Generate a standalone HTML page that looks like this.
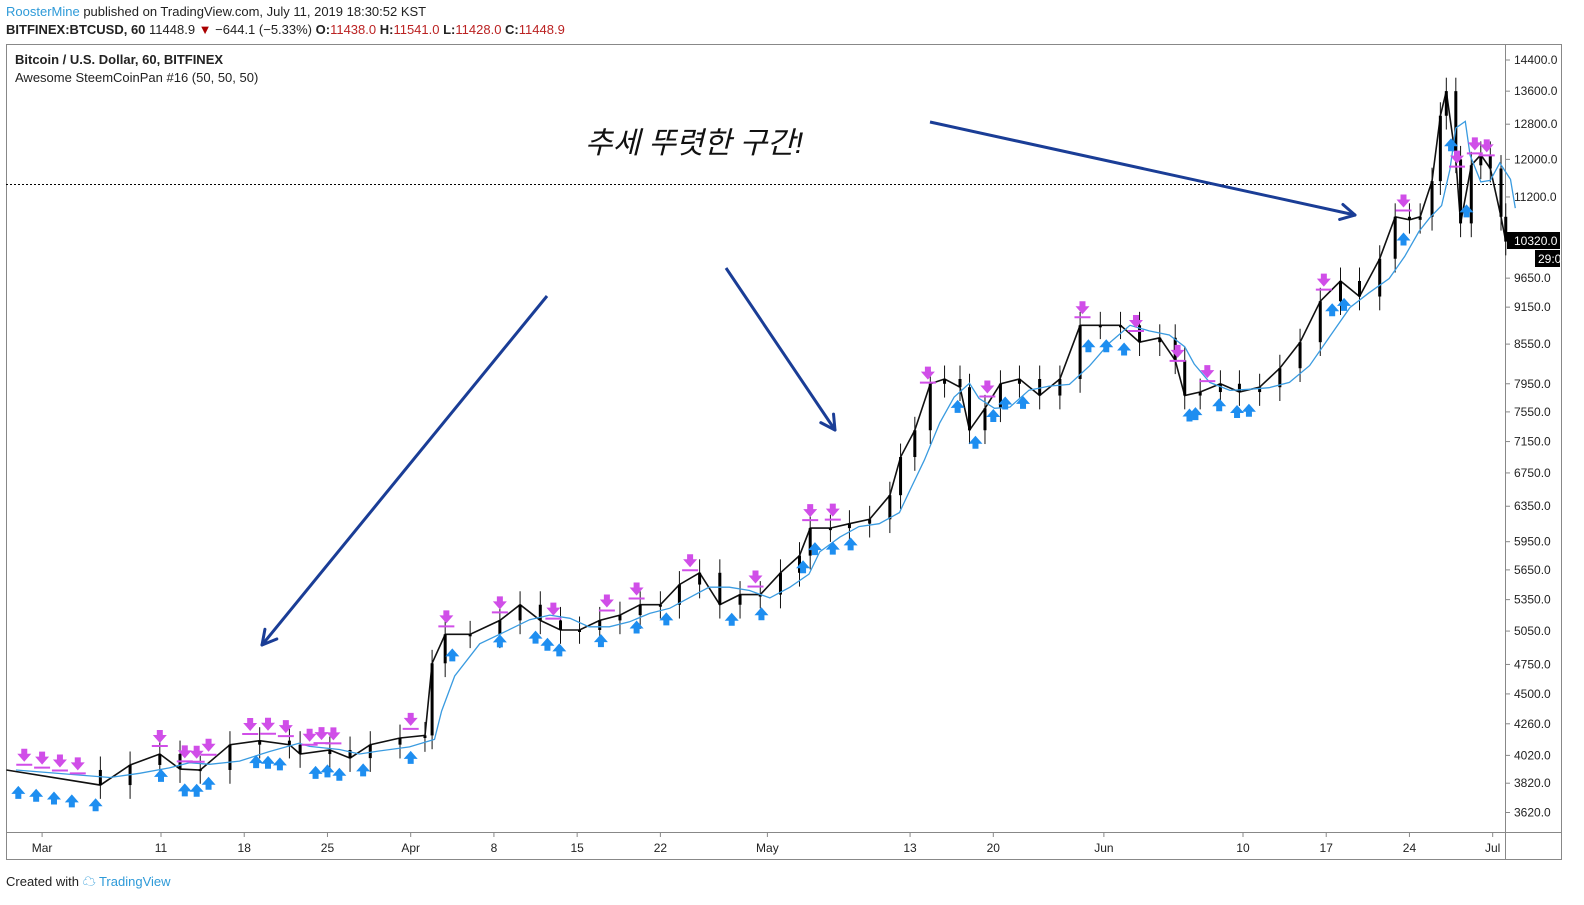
<!DOCTYPE html>
<html><head><meta charset="utf-8">
<style>
body{margin:0;background:#fff;font-family:"Liberation Sans","Noto Sans CJK KR",sans-serif;}
#wrap{position:relative;width:1584px;height:905px;overflow:hidden;}
.t{position:absolute;white-space:nowrap;font-size:13px;color:#222;}
svg{position:absolute;left:0;top:0;}
</style></head><body>
<div id="wrap">
<div class="t" style="left:6px;top:4px;"><span style="color:#2e9ad8">RoosterMine</span> published on TradingView.com, July 11, 2019 18:30:52 KST</div>
<div class="t" style="left:6px;top:22px;"><b>BITFINEX:BTCUSD, 60</b> 11448.9 <span style="color:#a00">▼</span> −644.1 (−5.33%) <b>O:</b><span style="color:#b22">11438.0</span> <b>H:</b><span style="color:#b22">11541.0</span> <b>L:</b><span style="color:#b22">11428.0</span> <b>C:</b><span style="color:#b22">11448.9</span></div>
<div class="t" style="left:15px;top:52px;font-weight:bold;">Bitcoin / U.S. Dollar, 60, BITFINEX</div>
<div class="t" style="left:15px;top:70px;">Awesome SteemCoinPan #16 (50, 50, 50)</div>
<div class="t" style="left:585px;top:118px;font-size:30px;font-style:italic;color:#111;">추세 뚜렷한 구간!</div>
<div class="t" style="left:6px;top:871px;">Created with <span style="color:#2e9ad8">☁ TradingView</span></div>
<svg id="ch" width="1584" height="905"></svg>
</div>
<script>
const days=[-3,4.9,7.4,9.9,11.6,13.3,15.8,18.3,20.8,21.7,24.2,25.9,27.6,30.1,32.2,32.8,33.9,36,38.5,40.2,41.9,43.6,45.2,46.9,48.6,50.3,52,53.6,55.3,57,58.7,60.4,62.1,63.7,64.6,66.3,67.9,69.6,71.3,72.2,73.4,74.7,75.9,77.2,78,79.3,80.6,82.2,83.9,85.6,87.3,89,90.7,92.3,94,95.3,96.1,97.4,99.1,100.7,102.4,104.1,105.8,107.5,109.2,110.8,112.5,113.8,115,115.9,116.9,117.6,118.1,118.9,119.3,120.2,121,121.8,122.7,123.1];
const closes=[3914,3807,3950,4030,3920,3914,4100,4130,4100,4030,4060,4000,4100,4150,4170,4760,5020,5020,5150,5300,5150,5060,5060,5150,5200,5300,5300,5500,5620,5300,5400,5400,5620,5800,6100,6100,6150,6200,6480,6950,7300,7950,8020,7900,7300,7600,7950,8020,7780,8020,8850,8850,8850,8580,8650,8300,7780,7830,7950,7830,7900,8180,8580,9250,9600,9330,10000,10800,10740,10800,11530,13000,13600,12000,10670,11870,12100,11800,10800,10320];
const sellDays=[-1.5,0,1.5,3,9.9,12,13,14,17.5,19,20.5,22.5,23.5,24.5,31,34,38.5,43,47.5,50,54.5,60,64.6,66.5,74.5,79.5,87.5,92,95.5,98,107.8,114.5,119,120.5,121.5];
const buyDays=[-2,-0.5,1,2.5,4.5,10,12,13,14,18,19,20,23,24,25,27,31,34.5,38.5,41.5,42.5,43.5,47,50,52.5,58,60.5,64,65,66.5,68,77,78.5,80,81,82.5,88,89.5,91,96.5,97,99,100.5,101.5,108.5,109.5,114.5,118.5,119.8];
const priceTicks=[14400,13600,12800,12000,11200,9650,9150,8550,7950,7550,7150,6750,6350,5950,5650,5350,5050,4750,4500,4260,4020,3820,3620];
const dateLabels=["Mar","11","18","25","Apr","8","15","22","May","13","20","Jun","10","17","24","Jul"];
const dateDays=[0,10,17,24,31,38,45,52,61,73,80,89.3,101,108,115,122];

const ns="http://www.w3.org/2000/svg",svg=document.getElementById('ch');
const X=d=>161+(d-10)*11.89;
const Y=p=>60+545*Math.log(14400/p);
function mk(tag,at,parent){const e=document.createElementNS(ns,tag);for(const k in at)e.setAttribute(k,at[k]);(parent||svg).appendChild(e);return e;}
function priceAt(d){for(let i=1;i<days.length;i++){if(d<=days[i]){const t=(d-days[i-1])/(days[i]-days[i-1]);return closes[i-1]+(closes[i]-closes[i-1])*Math.max(0,t);}}return closes[closes.length-1];}

const fr=mk('rect',{x:6.5,y:44.5,width:1555,height:815,fill:'none',stroke:'#888'});


mk('line',{x1:1505.5,y1:44,x2:1505.5,y2:860,stroke:'#888'});
mk('line',{x1:6,y1:832.5,x2:1562,y2:832.5,stroke:'#888'});
priceTicks.forEach(p=>{const y=Y(p);
 mk('line',{x1:1505,y1:y,x2:1510,y2:y,stroke:'#888'});
 const t=mk('text',{x:1514,y:y+4,'font-size':12,fill:'#222','font-family':'Liberation Sans'});t.textContent=p.toFixed(1);
 
 });
dateLabels.forEach((l,i)=>{const x=X(dateDays[i]);
 mk('line',{x1:x,y1:832,x2:x,y2:837,stroke:'#888'});
 const t=mk('text',{x:x,y:852,'font-size':12,fill:'#222','text-anchor':'middle','font-family':'Liberation Sans'});t.textContent=l;
 
 });
mk('line',{x1:6,y1:184.5,x2:1505,y2:184.5,stroke:'#000','stroke-dasharray':'2,2'});
const cg=mk('g',{});


let pts=[];
for(let i=0;i<days.length;i++){pts.push(X(days[i]).toFixed(1)+','+Y(closes[i]).toFixed(1));}
mk('polyline',{points:pts.join(' '),fill:'none',stroke:'#111','stroke-width':1.6},cg);
for(let i=1;i<days.length;i++){
 const o=closes[i-1],c=closes[i],x=X(days[i]);
 const hi=Math.max(o,c)*1.025,lo=Math.min(o,c)*0.975;
 mk('line',{x1:x,y1:Y(hi),x2:x,y2:Y(lo),stroke:'#111','stroke-width':1},cg);
 const b=mk('rect',{x:x-1.5,y:Y(Math.max(o,c)),width:3,height:Math.max(2,Math.abs(Y(o)-Y(c))),fill:'#000'},cg);
 
 
}
let ma=[];for(let i=0;i<closes.length;i++){let s=0,n=0;for(let j=Math.max(0,i-2);j<=i;j++){s+=closes[j];n++;}ma.push(s/n);}
const mp=ma.map((v,i)=>X(days[i]+0.8).toFixed(1)+','+Y(v).toFixed(1)).join(' ');
const ml=mk('polyline',{points:mp,fill:'none',stroke:'#3a9be0','stroke-width':1.3});


sellDays.forEach(d=>{const x=X(d),y=Y(priceAt(d))-16;
 const a=mk('path',{d:`M${x-3},${y-8}h6v5h4l-7,8l-7,-8h4z`,fill:'#d04ee8'});
 
 
 mk('line',{x1:x-8,y1:y+8,x2:x+8,y2:y+8,stroke:'#d04ee8','stroke-width':2});});
buyDays.forEach(d=>{const x=X(d),y=Y(priceAt(d))+14;
 const a=mk('path',{d:`M${x},${y}l7,8h-4v5h-6v-5h-4z`,fill:'#1e8ef0'});
 
 });
const ac='#1a3d96';
[[547,296,262,645],[726,268,835,430],[930,122,1355,215]].forEach(a=>{
 const g=mk('g',{});
 
 
 mk('line',{x1:a[0],y1:a[1],x2:a[2],y2:a[3],stroke:ac,'stroke-width':3},g);
 const ang=Math.atan2(a[3]-a[1],a[2]-a[0]),L=16;
 [0.5,-0.5].forEach(s=>mk('line',{x1:a[2],y1:a[3],x2:a[2]-L*Math.cos(ang+s),y2:a[3]-L*Math.sin(ang+s),stroke:ac,'stroke-width':3,'stroke-linecap':'round'},g));
});
const lb=mk('rect',{x:1507,y:232,width:53,height:17,fill:'#000'});


let t=mk('text',{x:1514,y:245,'font-size':12,fill:'#fff','font-family':'Liberation Sans'});t.textContent='10320.0';
mk('rect',{x:1535,y:250,width:25,height:17,fill:'#000'});
t=mk('text',{x:1538,y:263,'font-size':12,fill:'#fff','font-family':'Liberation Sans'});t.textContent='29:08';


</script>
</body></html>
